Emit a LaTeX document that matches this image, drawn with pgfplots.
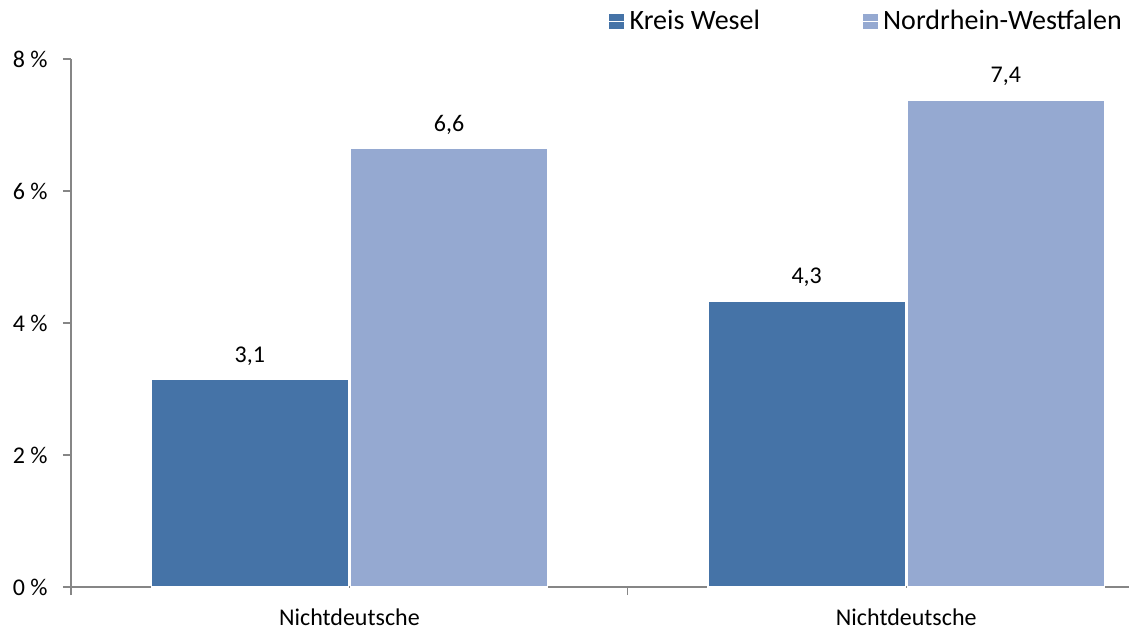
\documentclass[border=0pt]{standalone}
\usepackage{fontspec}
\setmainfont{Carlito}
\usepackage{pgfplots}
\pgfplotsset{compat=1.18}
\definecolor{wesel}{RGB}{69,115,167}
\definecolor{nrw}{RGB}{149,169,209}
\definecolor{axisgray}{RGB}{134,134,134}
\pgfplotsset{
  mybar/.style={ybar, bar width=0.354, draw=white, line width=0.6pt,
    legend image code/.code={%
      \fill[##1, draw=none] (0pt,-3.75pt) rectangle (7.5pt,3.75pt);
      \path (0pt,0pt) -- (10pt,0pt);}},
}

\begin{document}
\fontsize{12}{14}\selectfont
\begin{tikzpicture}
\begin{axis}[
  name=ax, at={(0,0)}, anchor=south west,
  scale only axis, width=529pt, height=264pt,
  xmin=-0.5, xmax=1.4, ymin=0, ymax=8,
  axis x line*=bottom, axis y line*=left,
  axis line style={axisgray, line width=0.6pt},
  tick style={axisgray, line width=0.6pt},
  tick align=outside, major tick length=4pt,
  /pgf/number format/assume math mode=true,
  ytick={0,2,4,6,8},
  yticklabel={\pgfmathprintnumber{\tick}~\%},
  yticklabel style={xshift=-3.5pt},
  xtick={-0.5,0.5,1.5}, xticklabels={},
  extra x ticks={0,1},
  extra x tick labels={Nichtdeutsche,Nichtdeutsche},
  extra x tick style={tick style={draw=none}, xticklabel style={yshift=-2.5pt}},
  ticklabel style={font=\fontsize{12}{14}\selectfont},
  nodes near coords={\pgfmathprintnumber[fixed,fixed zerofill,precision=1,use comma]{\pgfplotspointmeta}},
  nodes near coords style={font=\fontsize{12}{14}\selectfont, anchor=south, yshift=3pt, text=black},
  legend columns=2,
  legend style={at={(0.9935,1.071)}, anchor=east, draw=none, fill=none, inner sep=0pt,
    nodes={inner sep=0pt},
    font=\fontsize{14}{16}\selectfont,
    /tikz/every even column/.append style={column sep=51pt}},
]
\addplot[mybar, fill=wesel, bar shift=-0.179,
  every node near coord/.append style={xshift=-49.8pt}]
  coordinates {(0,3.14) (1,4.33)};
\addlegendentry{Kreis Wesel}
\addplot[mybar, fill=nrw, bar shift=0.179,
  every node near coord/.append style={xshift=49.8pt}]
  coordinates {(0,6.64) (1,7.38)};
\addlegendentry{Nordrhein-Westfalen}
\end{axis}
\pgfresetboundingbox
\path (-35.5pt,-22.5pt) rectangle (529pt,293.5pt);
\end{tikzpicture}
\end{document}
